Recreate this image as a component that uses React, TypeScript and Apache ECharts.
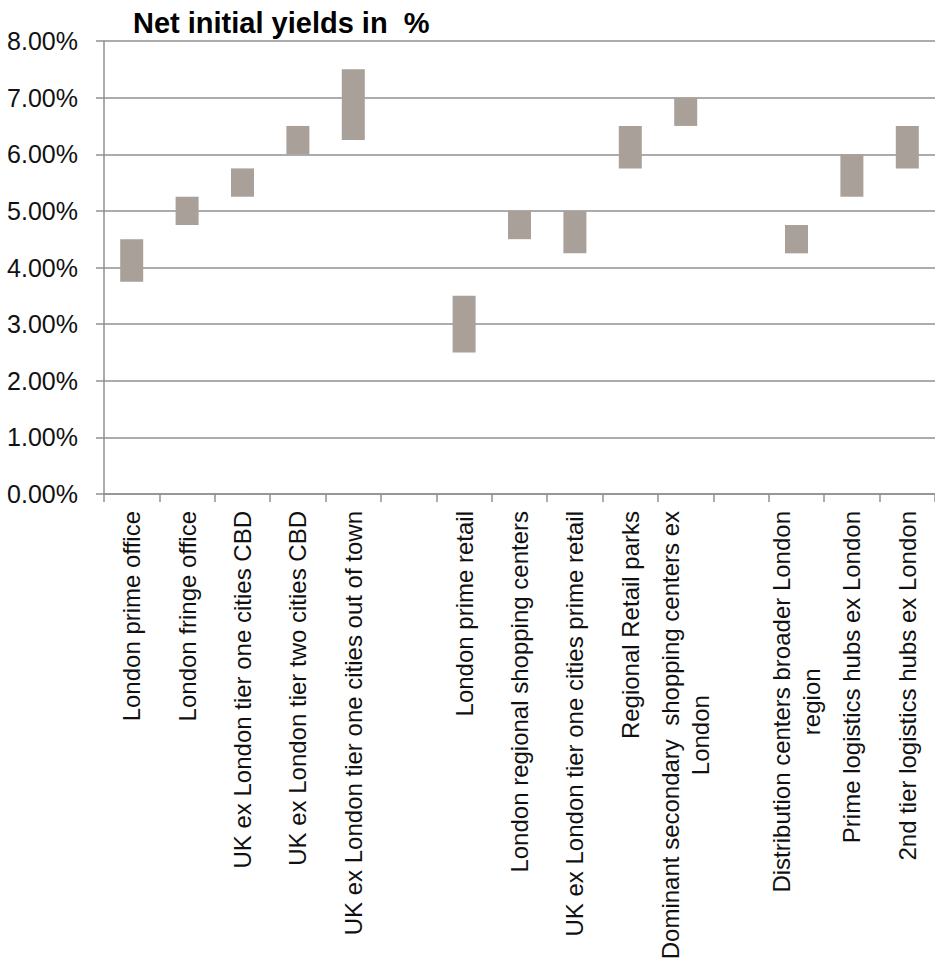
import React, { useEffect, useRef } from "react";
import * as echarts from "echarts";

// Property segments; empty strings leave a gap between office, retail and logistics groups
const categories: string[] = [
  "London prime office",
  "London fringe office",
  "UK ex London tier one cities CBD",
  "UK ex London tier two cities CBD",
  "UK ex London tier one cities out of town",
  "",
  "London prime retail",
  "London regional shopping centers",
  "UK ex London tier one cities prime retail",
  "Regional Retail parks",
  "Dominant secondary  shopping centers ex\nLondon",
  "",
  "Distribution centers broader London\nregion",
  "Prime logistics hubs ex London",
  "2nd tier logistics hubs ex London",
];

// Yield range per segment, in percent
const yieldLow: (number | null)[] = [3.75, 4.75, 5.25, 6.0, 6.25, null, 2.5, 4.5, 4.25, 5.75, 6.5, null, 4.25, 5.25, 5.75];
const yieldHigh: (number | null)[] = [4.5, 5.25, 5.75, 6.5, 7.5, null, 3.5, 5.0, 5.0, 6.5, 7.0, null, 4.75, 6.0, 6.5];

const yTicks = { min: 0, max: 8, step: 1 };

const FONT = "'Liberation Sans', Arial, Helvetica, sans-serif";
const GRID_COLOR = "#919191";
const BAR_COLOR = "#a9a099";

export default function App() {
  const ref = useRef<HTMLDivElement>(null);

  useEffect(() => {
    if (!ref.current) return;
    const chart = echarts.init(ref.current, undefined, { renderer: "svg" });

    const spans = yieldHigh.map((h, i) => {
      const l = yieldLow[i];
      return h == null || l == null ? null : h - l;
    });

    chart.setOption({
      animation: false,
      backgroundColor: "#ffffff",
      title: {
        text: "Net initial yields in  %",
        left: 128,
        top: 3,
        textStyle: {
          fontFamily: FONT,
          fontSize: 29,
          fontWeight: "bold",
          color: "#000000",
        },
      },
      grid: { left: 104, right: -9, top: 41, bottom: 469, containLabel: false },
      xAxis: {
        type: "category",
        data: categories,
        boundaryGap: true,
        axisLine: { lineStyle: { color: GRID_COLOR, width: 1.5 } },
        axisTick: { show: true, inside: false, length: 8, alignWithLabel: false, lineStyle: { color: GRID_COLOR, width: 1.5 } },
        axisLabel: {
          interval: 0,
          rotate: 90,
          margin: 17,
          formatter: (v: string) =>
            v
              .split("\n")
              .map((line) => `{c|${line}}`)
              .join("\n"),
          rich: {
            c: {
              align: "center",
              fontFamily: FONT,
              fontSize: 24,
              lineHeight: 30,
              color: "#111111",
            },
          },
        },
        splitLine: { show: false },
      },
      yAxis: {
        type: "value",
        min: yTicks.min,
        max: yTicks.max,
        interval: yTicks.step,
        axisLine: { show: true, lineStyle: { color: GRID_COLOR, width: 1.5 } },
        axisTick: { show: true, inside: false, length: 8, lineStyle: { color: GRID_COLOR, width: 1.5 } },
        axisLabel: {
          margin: 26,
          fontFamily: FONT,
          fontSize: 25,
          color: "#111111",
          formatter: (v: number) => v.toFixed(2) + "%",
        },
        splitLine: { show: true, lineStyle: { color: GRID_COLOR, width: 1.5 } },
      },
      series: [
        {
          name: "low",
          type: "bar",
          stack: "range",
          barWidth: 23,
          silent: true,
          itemStyle: { color: "rgba(0,0,0,0)" },
          data: yieldLow,
        },
        {
          name: "range",
          type: "bar",
          stack: "range",
          barWidth: 23,
          itemStyle: { color: BAR_COLOR },
          data: spans,
        },
      ],
    });

    return () => chart.dispose();
  }, []);

  return <div ref={ref} style={{ width: 935, height: 963, position: "absolute", left: 0, top: 0 }} />;
}
